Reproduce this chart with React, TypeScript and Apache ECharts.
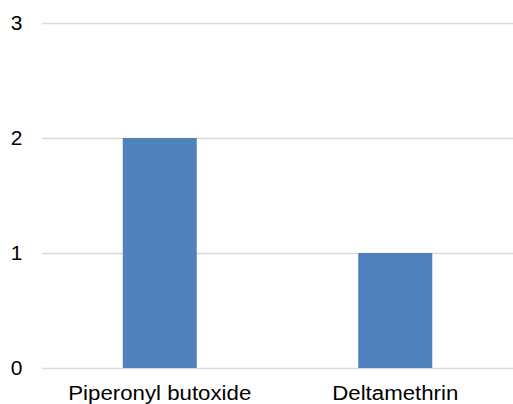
import React, { useEffect, useRef } from "react";
import * as echarts from "echarts";

const categories = ["Piperonyl butoxide", "Deltamethrin"];
const values = [2, 1];
const yTicks = [0, 1, 2, 3];

const FONT = "'Liberation Sans', Arial, sans-serif";

export default function App() {
  const ref = useRef<HTMLDivElement>(null);
  useEffect(() => {
    if (!ref.current) return;
    const chart = echarts.init(ref.current, null, { renderer: "svg" });
    chart.setOption({
      animation: false,
      grid: { left: 42, top: 23, width: 472, bottom: 36 },
      xAxis: {
        type: "category",
        data: categories,
        axisLine: { show: false },
        axisTick: { show: false },
        axisLabel: { show: false },
      },
      yAxis: {
        type: "value",
        min: 0,
        max: 3,
        interval: 1,
        axisLine: { show: false },
        axisTick: { show: false },
        axisLabel: { show: false },
        splitLine: { lineStyle: { color: "#D9D9D9", width: 1.3 } },
      },
      series: [
        {
          type: "bar",
          data: values,
          barWidth: 74,
          itemStyle: { color: "#4F81BD" },
        },
      ],
    });
    const graphics: any[] = [];
    yTicks.forEach((t) => {
      const py = chart.convertToPixel({ yAxisIndex: 0 }, t) as number;
      graphics.push({
        type: "text",
        x: 16.5,
        y: py - 0.5,
        scaleX: 1.05,
        style: {
          text: String(t),
          fill: "#000",
          fontSize: 20,
          fontFamily: FONT,
          align: "center",
          verticalAlign: "middle",
        },
      });
    });
    categories.forEach((c) => {
      const px = chart.convertToPixel({ xAxisIndex: 0 }, c) as number;
      graphics.push({
        type: "text",
        x: px,
        y: 393,
        scaleX: 1.06,
        style: {
          text: c,
          fill: "#000",
          fontSize: 21,
          fontFamily: FONT,
          align: "center",
          verticalAlign: "middle",
        },
      });
    });
    chart.setOption({ graphic: graphics });
    return () => chart.dispose();
  }, []);
  return (
    <div
      ref={ref}
      style={{ position: "absolute", left: 0, top: 0, width: 513, height: 404 }}
    />
  );
}
